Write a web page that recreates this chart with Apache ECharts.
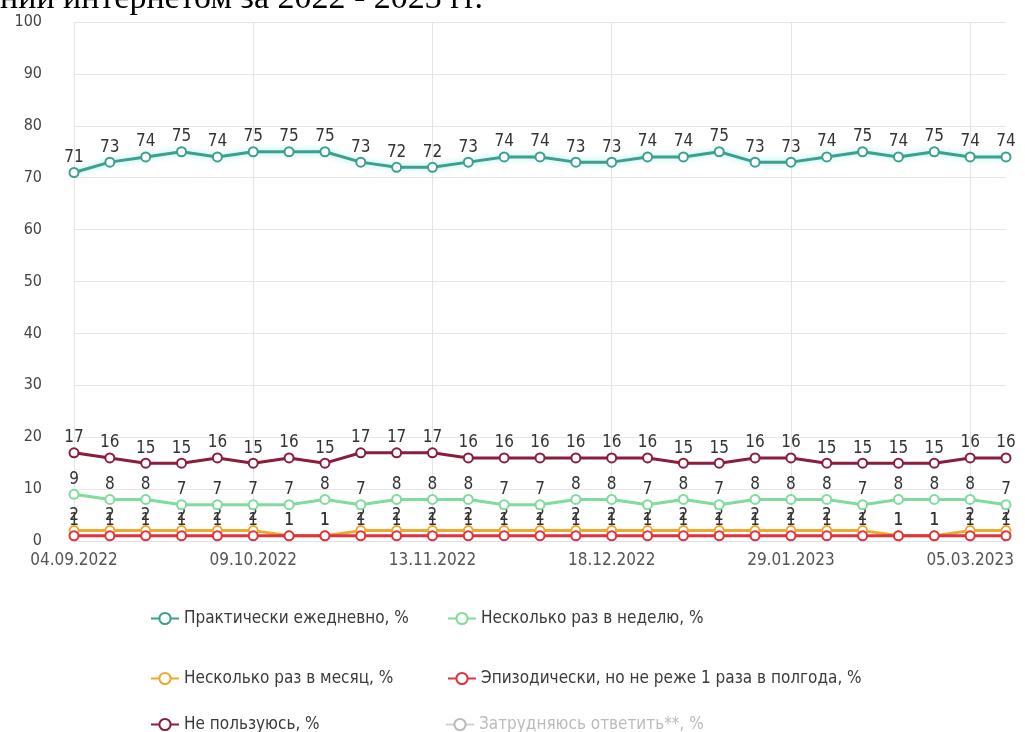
<!DOCTYPE html>
<html><head><meta charset="utf-8">
<script src="https://cdn.jsdelivr.net/npm/echarts@6/dist/echarts.min.js"></script>
<style>html,body{margin:0;padding:0;background:#fff}#c{width:1025px;height:732px}</style>
</head><body><div id="c"></div>
<script>
const dates = ["04.09.2022","11.09.2022","18.09.2022","25.09.2022","02.10.2022","09.10.2022","16.10.2022","23.10.2022","30.10.2022","06.11.2022","13.11.2022","20.11.2022","27.11.2022","04.12.2022","11.12.2022","18.12.2022","25.12.2022","08.01.2023","15.01.2023","22.01.2023","29.01.2023","05.02.2023","12.02.2023","19.02.2023","26.02.2023","05.03.2023","12.03.2023"];
const daily   = [71,73,74,75,74,75,75,75,73,72,72,73,74,74,73,73,74,74,75,73,73,74,75,74,75,74,74];
const weekly  = [9,8,8,7,7,7,7,8,7,8,8,8,7,7,8,8,7,8,7,8,8,8,7,8,8,8,7];
const monthly = [2,2,2,2,2,2,1,1,2,2,2,2,2,2,2,2,2,2,2,2,2,2,2,1,1,2,2];
const rare    = [1,1,1,1,1,1,1,1,1,1,1,1,1,1,1,1,1,1,1,1,1,1,1,1,1,1,1];
const notUse  = [17,16,15,15,16,15,16,15,17,17,17,16,16,16,16,16,16,15,15,16,16,15,15,15,15,16,16];
const unsure  = [0,0,0,0,0,0,0,0,0,0,0,0,0,0,0,0,0,0,0,0,0,0,0,0,0,0,0];
const yTicks  = [0,10,20,30,40,50,60,70,80,90,100];
const names = ["Практически ежедневно, %","Несколько раз в неделю, %","Несколько раз в месяц, %","Эпизодически, но не реже 1 раза в полгода, %","Не пользуюсь, %","Затрудняюсь ответить**, %"];
const colors = ["#3c9f8f","#7fdc9c","#f0a82c","#e0323c","#8a1c3c","#aaaaaa"];
const values = [daily, weekly, monthly, rare, notUse, unsure];

const chart = echarts.init(document.getElementById('c'), null, {renderer:'canvas'});
const font = "DejaVu Sans Condensed, DejaVu Sans, sans-serif";
const series = values.map((v, i) => ({
  name: names[i], type: 'line', data: v,
  symbol: 'emptyCircle', symbolSize: 9,
  itemStyle: {color: colors[i], borderWidth: 2},
  lineStyle: Object.assign({color: colors[i], width: 3}, i===0 ? {shadowColor:'rgba(110,230,215,0.7)', shadowBlur:6} : {}),
  label: {show: true, position: 'top', distance: 1, color: '#333', fontSize: 17, fontFamily: font},
  z: [5,4,2,3,6,1][i],
  emphasis: {disabled: true},
  animation: false
}));
const legendPos = [[145,605],[442,605],[145,665],[442,665],[145,711],[440,711]];
const legends = legendPos.map((p, i) => ({
  data: [names[i]], left: p[0], top: p[1], itemWidth: 28, itemHeight: 14, itemGap: 8,
  textStyle: {fontSize: 17, color: '#3a3a3a', fontFamily: font},
  inactiveColor: '#bbb',
  selected: {"Затрудняюсь ответить**, %": false}
}));
chart.setOption({
  backgroundColor: '#fff',
  animation: false,
  graphic: [{type:'text', left: 0, top: -18, style:{text:'нии интернетом за 2022 - 2023 гг.', fontSize: 34, fontFamily: 'Liberation Serif, serif', fill:'#000'}}],
  grid: {left: 74, right: 19, top: 22, bottom: 191},
  legend: legends,
  xAxis: {
    type: 'category', data: dates, boundaryGap: false,
    axisLine: {show: true, lineStyle: {color: '#dde3ea'}},
    axisTick: {show: false},
    axisLabel: {interval: 4, color: '#555', fontSize: 17, fontFamily: font, margin: 11},
    splitLine: {show: true, interval: 4, lineStyle: {color: '#e4e4e4'}}
  },
  yAxis: {
    type: 'value', min: yTicks[0], max: yTicks[yTicks.length-1], interval: 10,
    axisLine: {show: false}, axisTick: {show: false},
    axisLabel: {color: '#444', fontSize: 16, fontFamily: font, margin: 32},
    splitLine: {lineStyle: {color: '#e6e6e6'}}
  },
  series: series
});
</script>
</body></html>
